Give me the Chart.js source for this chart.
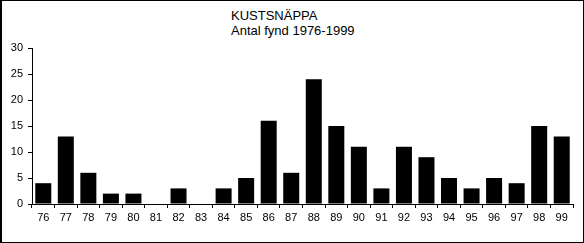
<!DOCTYPE html>
<html>
<head>
<meta charset="utf-8">
<script src="https://cdn.jsdelivr.net/npm/chart.js@4"></script>
<style>
  html, body { margin: 0; padding: 0; background: #fff; }
  #wrap { position: relative; width: 584px; height: 243px; box-sizing: border-box;
          border: 1px solid #000; border-left-width: 2px; }
  #title { position: absolute; left: 229px; top: 7px; font: 13px "Liberation Sans", Arial, sans-serif;
           line-height: 15px; color: #000; white-space: pre; }
  canvas { position: absolute; left: -2px; top: -1px; }
</style>
</head>
<body>
<div id="wrap">
  <div id="title">KUSTSNÄPPA
Antal fynd 1976-1999</div>
  <canvas id="fyndChart" width="584" height="243"></canvas>
</div>
<script>
const years = ['76', '77', '78', '79', '80', '81', '82', '83', '84', '85', '86', '87',
               '88', '89', '90', '91', '92', '93', '94', '95', '96', '97', '98', '99'];
const fynd = [4, 13, 6, 2, 2, 0, 3, 0, 3, 5, 16, 6, 24, 15, 11, 3, 11, 9, 5, 3, 5, 4, 15, 13];
const yMin = 0;
const yMax = 30;
const yStep = 5;

Chart.defaults.font.family = '"Liberation Sans", Arial, sans-serif';
Chart.defaults.font.size = 11;
Chart.defaults.color = '#000';

const ctx = document.getElementById('fyndChart').getContext('2d');
const fyndChart = new Chart(ctx, {
    type: 'bar',
    data: {
        labels: years,
        datasets: [{
            label: 'Antal fynd',
            data: fynd,
            backgroundColor: '#000',
            borderWidth: 0,
            barPercentage: 0.71,
            categoryPercentage: 1.0
        }]
    },
    options: {
        responsive: false,
        animation: false,
        layout: {
            padding: { top: 48, right: 11, left: 0, bottom: 0 }
        },
        plugins: {
            legend: { display: false },
            tooltip: { enabled: false }
        },
        scales: {
            x: {
                offset: true,
                grid: {
                    offset: true,
                    drawOnChartArea: false,
                    drawTicks: true,
                    tickLength: 4,
                    color: '#000'
                },
                border: { color: '#000', width: 1 },
                ticks: { padding: 3, maxRotation: 0, autoSkip: false },
                afterFit: function (s) { s.height = 39; }
            },
            y: {
                min: yMin,
                max: yMax,
                grid: {
                    drawOnChartArea: false,
                    drawTicks: true,
                    tickLength: 4,
                    color: '#000'
                },
                border: { color: '#000', width: 1 },
                ticks: { stepSize: yStep, padding: 5 },
                afterFit: function (s) { s.width = 32; }
            }
        }
    }
});
</script>
</body>
</html>
